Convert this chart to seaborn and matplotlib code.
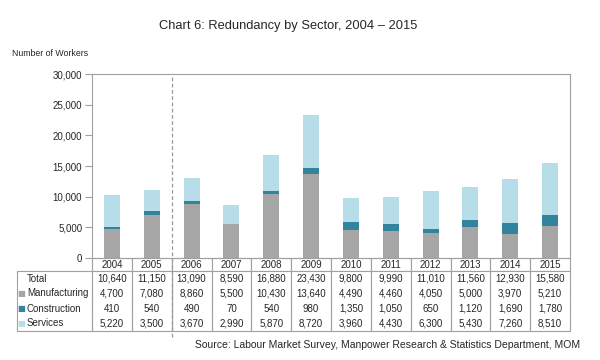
import matplotlib
matplotlib.use("Agg")
from matplotlib import pyplot as plt
import seaborn as sns
import numpy as np

years = ["2004", "2005", "2006", "2007", "2008", "2009",
         "2010", "2011", "2012", "2013", "2014", "2015"]
total = [10640, 11150, 13090, 8590, 16880, 23430,
         9800, 9990, 11010, 11560, 12930, 15580]
manufacturing = [4700, 7080, 8860, 5500, 10430, 13640,
                 4490, 4460, 4050, 5000, 3970, 5210]
construction = [410, 540, 490, 70, 540, 980,
                1350, 1050, 650, 1120, 1690, 1780]
services = [5220, 3500, 3670, 2990, 5870, 8720,
            3960, 4430, 6300, 5430, 7260, 8510]

row_names = ["Total", "Manufacturing", "Construction", "Services"]
c_manu = "#A6A6A6"
c_cons = "#31849B"
c_serv = "#B7DEE8"
c_line = "#A0A0A0"
c_text = "#262626"

sns.set_style("white")
plt.rcParams["font.family"] = ["Liberation Sans", "DejaVu Sans"]

AX_L, AX_W, AX_H = 92, 478, 184   # axes position / size in pixels
fig = plt.figure(figsize=(6, 3.6), dpi=100)
ax = fig.add_axes([AX_L / 600, 1 - 258 / 360, AX_W / 600, AX_H / 360])

# stacked bars, drawn as overlapping cumulative sums
m = np.array(manufacturing)
c = np.array(construction)
s = np.array(services)
for vals, col in [(m + c + s, c_serv), (m + c, c_cons), (m, c_manu)]:
    sns.barplot(x=years, y=vals, color=col, width=0.40, saturation=1,
                linewidth=0, ax=ax)

ax.set_ylim(0, 30000)
ax.set_xlim(-0.5, 11.5)
ax.set_yticks(range(0, 30001, 5000))
ax.set_yticklabels([f"{v:,}" for v in range(0, 30001, 5000)],
                   fontsize=7, color=c_text)
ax.set_xticks([])
ax.set_xlabel("")
ax.set_ylabel("")
ax.tick_params(axis="y", length=5, width=0.8, color=c_line, pad=2, left=True)
for sp in ax.spines.values():
    sp.set_color(c_line)
    sp.set_linewidth(0.8)

# dashed separator between 2005 and 2006
ax.axvline(1.5, ymin=-0.43, ymax=1, color="#999999", lw=0.9,
           ls=(0, (3, 2)), clip_on=False, zorder=5)

# data table under the chart; first column holds the row names
lab_w = (AX_L - 17) / AX_W
heights = [13, 15, 15, 15, 15]
tab_h = sum(heights) / AX_H

rows = [total, manufacturing, construction, services]
cell_text = [[name] + [f"{v:,}" for v in row] for name, row in zip(row_names, rows)]
tb = ax.table(cellText=cell_text, colLabels=[""] + years,
              colWidths=[lab_w] + [1 / 12] * 12,
              cellLoc="center", colLoc="center",
              bbox=[-lab_w, -tab_h, 1 + lab_w, tab_h])
tb.auto_set_font_size(False)
tb.set_fontsize(7)
for (r, col), cell in tb.get_celld().items():
    cell.set_edgecolor(c_line)
    cell.set_linewidth(0.8)
    cell.get_text().set_color(c_text)
    cell.set_height(heights[r] / AX_H)
    if r == 0:
        cell.visible_edges = "" if col == 0 else "closed"
    else:
        e = "LR"
        if r == 1:
            e += "T"
        if r == 4:
            e += "B"
        cell.visible_edges = e
    if col == 0 and r > 0:
        cell._loc = "left"
        cell.PAD = 0.13
        cell.get_text().set_ha("left")

# legend squares in the row labels
ycen = []
top = 0
for h in heights:
    ycen.append(-(top + h / 2) / AX_H)
    top += h
for i, col in [(2, c_manu), (3, c_cons), (4, c_serv)]:
    ax.text((21 - AX_L) / AX_W, ycen[i], "\u25A0", color=col, fontsize=6,
            family="DejaVu Sans", ha="center", va="center",
            transform=ax.transAxes, clip_on=False)

fig.text(288 / 600, 1 - 26 / 360, "Chart 6: Redundancy by Sector, 2004 \u2013 2015",
         ha="center", va="center", fontsize=9.3, color=c_text)
fig.text(12 / 600, 1 - 54 / 360, "Number of Workers",
         ha="left", va="center", fontsize=6.3, color=c_text)
fig.text(580 / 600, 1 - 345 / 360,
         "Source: Labour Market Survey, Manpower Research & Statistics Department, MOM",
         ha="right", va="center", fontsize=7.5, color=c_text)

fig.savefig("out.png", dpi=100)
